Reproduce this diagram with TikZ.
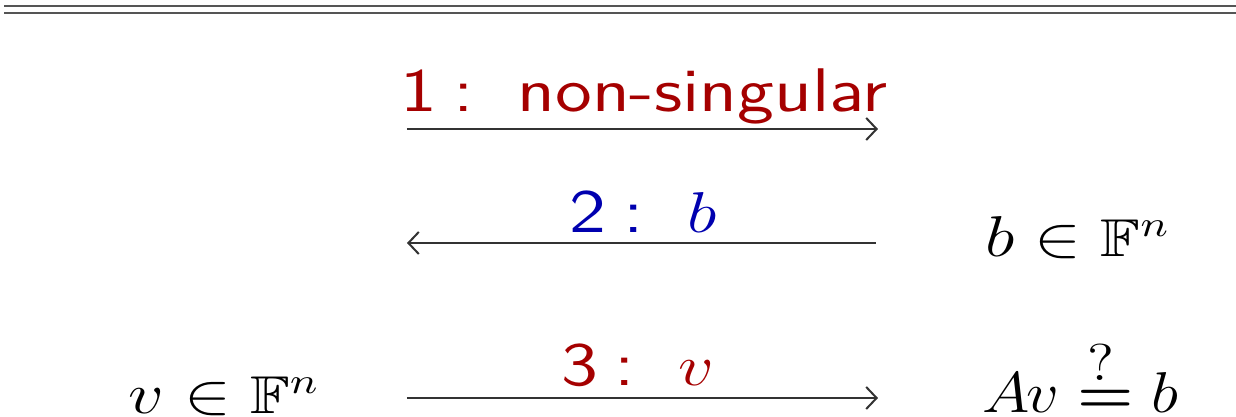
\documentclass[tikz,border=0pt]{standalone}
\usepackage{graphicx}
\usepackage{amssymb}
\usepackage{amsmath}
\usetikzlibrary{arrows.meta}
\definecolor{dred}{RGB}{165,0,0}
\definecolor{dblue}{RGB}{0,0,175}
\definecolor{lgray}{RGB}{85,85,85}
\newcommand{\wide}[1]{\scalebox{1.22}[1]{#1}}
\begin{document}
\begin{tikzpicture}[x=0.25pt,y=-0.25pt,
  rule/.style={draw=lgray,line width=0.7pt},
  arr/.style={draw=black!80,line width=0.5pt,-{Straight Barb[length=2.6pt,width=5.5pt]}},
  lab/.style={inner sep=0pt,anchor=base,font=\fontsize{15.4pt}{18pt}\selectfont\sffamily},
  mth/.style={inner sep=0pt,anchor=base west,font=\fontsize{13.3pt}{16pt}\selectfont}]
\useasboundingbox (0,0) rectangle (1236,417);
% top double rule
\coordinate (r1a) at (4,6); \coordinate (r1b) at (1236,6);
\coordinate (r2a) at (4,13); \coordinate (r2b) at (1236,13);
\draw[rule] (r1a) -- (r1b);
\draw[rule] (r2a) -- (r2b);
% arrow 1
\coordinate (a1s) at (407,129); \coordinate (a1e) at (878,129);
\draw[arr] (a1s) -- (a1e);
\node[lab,text=dred] (l1) at (644,112) {\wide{1\hspace{0.22em}:\hspace{0.58em}non-singular}};
% arrow 2
\coordinate (a2s) at (876,243); \coordinate (a2e) at (407,243);
\draw[arr] (a2s) -- (a2e);
\node[lab,text=dblue] (l2) at (643,233) {\wide{2\hspace{0.22em}:\hspace{0.58em}$b$}};
% arrow 3
\coordinate (a3s) at (407,398); \coordinate (a3e) at (878,398);
\draw[arr] (a3s) -- (a3e);
\node[lab,text=dred] (l3) at (638,386) {\wide{3\hspace{0.22em}:\hspace{0.58em}$v$}};
% math texts
\node[mth] (bF) at (985,257) {\wide{$b\in\mathbb{F}^n$}};
\node[mth] (Av) at (982,413) {\scalebox{1.12}[1]{$A\mkern-1mu v\stackrel{\scalebox{0.9}{$\textstyle ?$}}{\boldsymbol{=}}b$}};
\node[mth] (vF) at (128,414) {\wide{$v\in\mathbb{F}^n$}};
\end{tikzpicture}
\end{document}
